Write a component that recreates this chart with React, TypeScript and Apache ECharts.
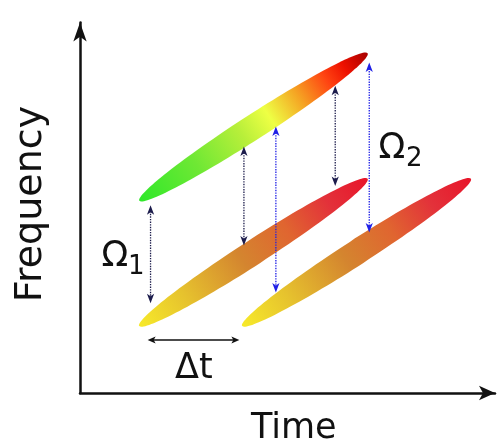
import React, { useEffect, useRef } from "react";
import * as echarts from "echarts";

// axis ranges (arbitrary units)
const timeMax = 100;
const freqMax = 100;

// chirps (start/end in time, frequency units)
const chirpNames = ["probe", "pump 1", "pump 2"];
const chirpStartTime = [14.3, 14.3, 39.1];
const chirpStartFreq = [51.9, 18.1, 18.1];
const chirpEndTime = [69.3, 69.3, 94.2];
const chirpEndFreq = [91.7, 57.8, 57.8];
const chirpKind = [0, 1, 1];

// vertical frequency-difference arrows
const gapTime = [17.0, 39.5, 47.2, 61.5, 69.7];
const gapLowFreq = [24.2, 39.8, 27.1, 55.9, 43.3];
const gapHighFreq = [50.7, 66.5, 71.9, 82.9, 89.2];
const gapKind = [0, 0, 1, 0, 1]; // 0 = Ω1, 1 = Ω2

// delay arrow
const delayStartTime = [16.3];
const delayEndTime = [38.4];
const delayFreq = [14.3];

const FONT = "DejaVu Sans";

export default function App() {
  const ref = useRef<HTMLDivElement>(null);

  useEffect(() => {
    if (!ref.current) return;
    const chart = echarts.init(ref.current, undefined, { renderer: "svg" });

    const stops = [
      [
        { offset: 0, color: "#2fe82a" },
        { offset: 0.25, color: "#6fe834" },
        { offset: 0.45, color: "#b8ef3a" },
        { offset: 0.57, color: "#eeff44" },
        { offset: 0.7, color: "#f5a423" },
        { offset: 0.82, color: "#ff4412" },
        { offset: 0.9, color: "#ee1100" },
        { offset: 1, color: "#a80000" },
      ],
      [
        { offset: 0, color: "#f7ea2a" },
        { offset: 0.2, color: "#e6c22e" },
        { offset: 0.45, color: "#d4852f" },
        { offset: 0.65, color: "#e06530" },
        { offset: 0.83, color: "#e3313a" },
        { offset: 1, color: "#e8152a" },
      ],
    ];

    const chirpData = chirpNames.map((n, i) => ({
      name: n,
      value: [chirpStartTime[i], chirpStartFreq[i], chirpEndTime[i], chirpEndFreq[i], chirpKind[i]],
    }));
    const gapData = gapTime.map((t, i) => [t, gapLowFreq[i], gapHighFreq[i], gapKind[i]]);
    const delayData = delayStartTime.map((t, i) => [t, delayFreq[i], delayEndTime[i]]);

    chart.setOption({
      animation: false,
      grid: { left: 80, right: 8, top: 22.5, bottom: 49 },
      xAxis: {
        type: "value",
        min: 0,
        max: timeMax,
        axisLine: {
          show: true,
          symbol: ["none", "arrow"],
          symbolSize: [11, 16],
          lineStyle: { color: "#111", width: 2.5 },
        },
        axisTick: { show: false },
        axisLabel: { show: false },
        splitLine: { show: false },
      },
      yAxis: {
        type: "value",
        min: 0,
        max: freqMax,
        axisLine: {
          show: true,
          symbol: ["none", "arrow"],
          symbolSize: [10, 19],
          lineStyle: { color: "#111", width: 2.5 },
        },
        axisTick: { show: false },
        axisLabel: { show: false },
        splitLine: { show: false },
      },
      series: [
        {
          type: "custom",
          name: "chirps",
          data: chirpData,
          renderItem: (params: any, api: any) => {
            const p0 = api.coord([api.value(0), api.value(1)]);
            const p1 = api.coord([api.value(2), api.value(3)]);
            const kind = api.value(4);
            const dx = p1[0] - p0[0];
            const dy = p1[1] - p0[1];
            const len = Math.hypot(dx, dy);
            return {
              type: "ellipse",
              x: (p0[0] + p1[0]) / 2,
              y: (p0[1] + p1[1]) / 2,
              rotation: Math.atan2(-dy, dx),
              shape: { cx: 0, cy: 0, rx: len / 2, ry: 12.5 },
              style: { fill: new echarts.graphic.LinearGradient(0, 0, 1, 0, stops[kind]) },
            };
          },
        },
        {
          type: "custom",
          name: "gaps",
          data: gapData,
          z: 5,
          renderItem: (params: any, api: any) => {
            const lo = api.coord([api.value(0), api.value(1)]);
            const hi = api.coord([api.value(0), api.value(2)]);
            const color = api.value(3) ? "#2020e6" : "#1c1c4c";
            const x = hi[0];
            const yt = hi[1];
            const yb = lo[1];
            return {
              type: "group",
              children: [
                {
                  type: "line",
                  shape: { x1: x, y1: yt + 6, x2: x, y2: yb - 6 },
                  style: { stroke: color, lineWidth: 1.3, lineDash: [1.4, 1.2] },
                },
                {
                  type: "polygon",
                  shape: { points: [[x, yt], [x + 3.6, yt + 9.5], [x, yt + 7], [x - 3.6, yt + 9.5]] },
                  style: { fill: color },
                },
                {
                  type: "polygon",
                  shape: { points: [[x, yb], [x + 3.6, yb - 9.5], [x, yb - 7], [x - 3.6, yb - 9.5]] },
                  style: { fill: color },
                },
              ],
            };
          },
        },
        {
          type: "custom",
          name: "delay",
          data: delayData,
          z: 5,
          renderItem: (params: any, api: any) => {
            const a = api.coord([api.value(0), api.value(1)]);
            const b = api.coord([api.value(2), api.value(1)]);
            const y = a[1];
            return {
              type: "group",
              children: [
                {
                  type: "line",
                  shape: { x1: a[0] + 5, y1: y, x2: b[0] - 5, y2: y },
                  style: { stroke: "#111", lineWidth: 1.3 },
                },
                {
                  type: "polygon",
                  shape: { points: [[a[0], y], [a[0] + 8, y - 3.5], [a[0] + 6, y], [a[0] + 8, y + 3.5]] },
                  style: { fill: "#111" },
                },
                {
                  type: "polygon",
                  shape: { points: [[b[0], y], [b[0] - 8, y - 3.5], [b[0] - 6, y], [b[0] - 8, y + 3.5]] },
                  style: { fill: "#111" },
                },
              ],
            };
          },
        },
      ],
      graphic: [
        { type: "text", x: 101.5, y: 254, style: { text: "Ω", font: `35px '${FONT}'`, fill: "#111", verticalAlign: "middle", align: "left" } },
        { type: "text", x: 128, y: 264.5, style: { text: "1", font: `26px '${FONT}'`, fill: "#111", verticalAlign: "middle", align: "left" } },
        { type: "text", x: 378.5, y: 146, style: { text: "Ω", font: `35px '${FONT}'`, fill: "#111", verticalAlign: "middle", align: "left" } },
        { type: "text", x: 406, y: 156.5, style: { text: "2", font: `26px '${FONT}'`, fill: "#111", verticalAlign: "middle", align: "left" } },
        { type: "text", x: 175, y: 365.5, style: { text: "Δt", font: `35px '${FONT}'`, fill: "#111", verticalAlign: "middle", align: "left" } },
        { type: "text", x: 251, y: 426, style: { text: "Time", font: `35px '${FONT}'`, fill: "#111", verticalAlign: "middle", align: "left" } },
        { type: "text", x: 27.5, y: 204, rotation: Math.PI / 2, style: { text: "Frequency", font: `38px '${FONT}'`, fill: "#111", verticalAlign: "middle", align: "center" } },
      ],
    });

    return () => chart.dispose();
  }, []);

  return (
    <div
      ref={ref}
      style={{ position: "fixed", left: 0, top: 0, width: 503, height: 442 }}
    />
  );
}
